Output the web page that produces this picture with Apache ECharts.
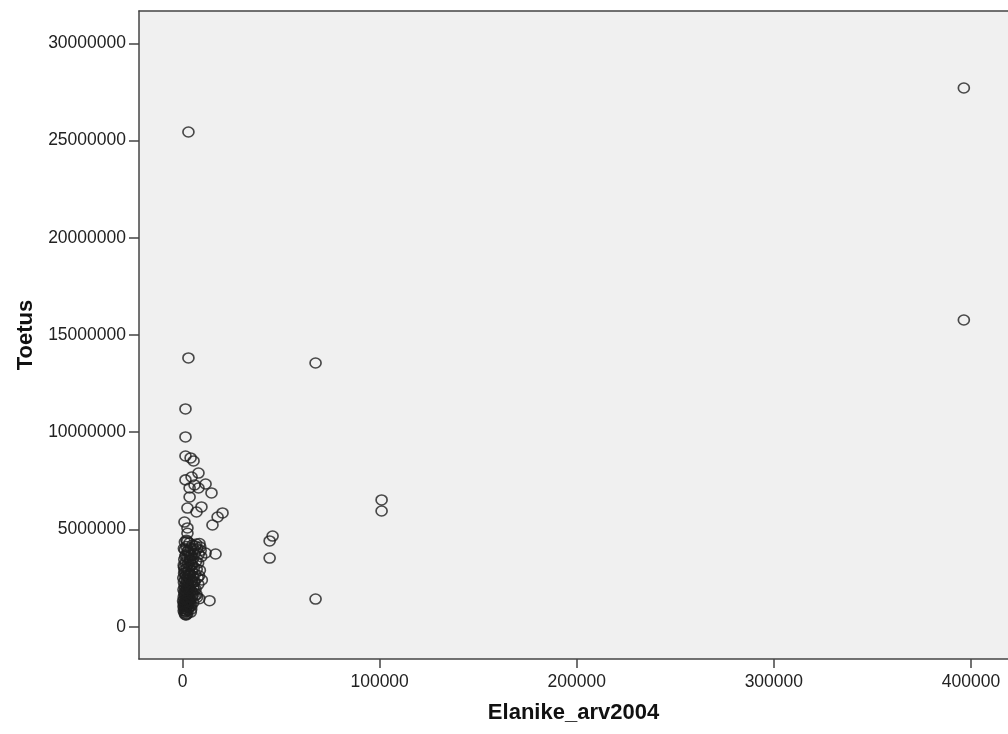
<!DOCTYPE html>
<html>
<head>
<meta charset="utf-8">
<script src="https://cdn.jsdelivr.net/npm/echarts@6/dist/echarts.min.js"></script>
<style>
html,body{margin:0;padding:0;background:#fff;}
#c{width:1008px;height:734px;}
</style>
</head>
<body>
<div id="c"></div>
<script>
// Population 2004 (x) and support (y, millions)
const elanike = [
  396400, 396400, 3000, 3000, 67500, 101000, 101000, 45700, 44200, 44200, 67500,
  13700, 16750, 11700,
  1500, 1500, 1500, 4100, 5600,
  1500, 4600, 8100, 6100, 11700, 14700, 3600, 8100, 3600, 2500, 9600, 7100, 1000, 15200, 20300, 17800, 2500, 2500,
  2000, 3500, 5000, 6500, 7000, 4200, 1200, 2800, 5600, 7500, 3300, 6000, 1800, 4500, 8200, 2500, 5200, 900, 3800, 6800,
  1500, 2900, 4400, 600, 3600, 5800, 2100, 7200, 1100, 3100, 4800, 2400, 800, 6300, 3900, 1700, 5300, 2600, 400, 7700,
  3400, 1300, 4600, 2200, 5900, 700, 3000, 1900, 8000, 4100, 2700, 1000, 5500, 3500,
  1600, 2300, 6600, 500, 3200, 4300, 1400, 2000, 5100, 900, 2800, 3700, 7100, 1200, 2500, 4700, 600, 3300,
  1800, 2600, 8500, 1000, 4000, 2100, 300, 3000, 1500, 5400, 2400, 700, 3500, 1900, 1100, 2700, 4500, 500, 2200, 1600,
  3100, 800, 1300, 2000, 2900, 600, 1700, 4200, 1000, 2300, 1400, 1900,
  9000, 9500, 8800, 9800, 1200, 2600, 4000, 800, 3300, 5000, 1800, 6200, 2900, 4400, 700, 3700, 2100, 5700, 1400, 3000,
  8600, 9200, 7900, 8400, 2000, 3400, 4900, 1300, 6100, 2700, 5300, 900, 3900, 1600, 7400, 2400
];
const toetus = [
  27.70, 15.77, 25.44, 13.82, 13.56, 6.52, 5.95, 4.66, 4.41, 3.53, 1.42,
  1.34, 3.74, 3.79,
  11.20, 9.76, 8.78, 8.68, 8.52,
  7.55, 7.70, 7.90, 7.29, 7.34, 6.88, 7.13, 7.13, 6.67, 6.10, 6.16, 5.90, 5.38, 5.23, 5.85, 5.64, 5.08, 4.80,
  4.45, 4.30, 4.20, 4.15, 4.25, 4.05, 3.95, 3.90, 3.98, 4.00, 3.80, 3.75, 3.70, 3.65, 3.72, 3.55, 3.50, 3.45, 3.40, 3.35,
  3.30, 3.25, 3.20, 3.15, 3.10, 3.05, 3.00, 2.95, 2.92, 2.88, 2.85, 2.80, 2.75, 2.70, 2.68, 2.62, 2.58, 2.55, 2.50, 2.52,
  2.45, 2.42, 2.38, 2.35, 2.30, 2.28, 2.25, 2.20, 2.18, 2.15, 2.10, 2.08, 2.05, 2.02,
  1.98, 1.95, 1.92, 1.90, 1.88, 1.85, 1.82, 1.80, 1.76, 1.74, 1.70, 1.68, 1.65, 1.62, 1.60, 1.55, 1.52, 1.50,
  1.48, 1.45, 1.44, 1.40, 1.38, 1.35, 1.32, 1.30, 1.28, 1.25, 1.22, 1.20, 1.18, 1.15, 1.12, 1.10, 1.08, 1.05, 1.02, 1.00,
  0.98, 0.95, 0.92, 0.88, 0.85, 0.82, 0.78, 0.75, 0.70, 0.66, 0.62, 0.60,
  4.10, 3.60, 2.90, 2.40, 4.35, 3.85, 3.45, 3.05, 2.65, 2.25, 1.72, 1.58, 1.26, 0.90, 4.02, 2.72, 1.36, 1.90, 3.62, 2.12,
  4.28, 3.92, 3.28, 2.62, 4.12, 3.68, 3.18, 2.78, 2.32, 1.94, 1.64, 1.18, 1.06, 0.80, 1.52, 4.38
];
const xTicks = [0, 100000, 200000, 300000, 400000];
const yTicks = [0, 5000000, 10000000, 15000000, 20000000, 25000000, 30000000];

const data = elanike.map((x, i) => [x, Math.round(toetus[i] * 1000000)]);

const chart = echarts.init(document.getElementById('c'), null, {renderer: 'canvas'});
const FF = 'Liberation Sans, Arial, sans-serif';
const labelFont = {color: '#222', fontSize: 17.5, fontFamily: FF, formatter: v => String(Math.round(v))};
const lineStyle = {color: '#444', width: 1.5};
chart.setOption({
  animation: false,
  backgroundColor: '#ffffff',
  grid: {
    left: 139, top: 11, right: 0, bottom: 75,
    show: true, backgroundColor: '#f0f0f0', borderWidth: 0
  },
  xAxis: [{
    type: 'value',
    min: -22080, max: 418800,
    name: 'Elanike_arv2004', nameLocation: 'middle', nameGap: 43,
    nameTextStyle: {color: '#111', fontSize: 22, fontWeight: 'bold', fontFamily: FF},
    axisLine: {show: true, onZero: false, lineStyle: lineStyle},
    axisTick: {show: true, length: 9, customValues: xTicks, lineStyle: lineStyle},
    axisLabel: Object.assign({margin: 14, customValues: xTicks}, labelFont),
    splitLine: {show: false}
  }, {
    type: 'value', position: 'top',
    min: -22080, max: 418800,
    axisLine: {show: true, onZero: false, lineStyle: lineStyle},
    axisTick: {show: false}, axisLabel: {show: false}, splitLine: {show: false}
  }],
  yAxis: {
    type: 'value',
    min: -1661000, max: 31661000,
    name: 'Toetus', nameLocation: 'middle', nameGap: 99, nameRotate: 90,
    nameTextStyle: {color: '#111', fontSize: 22, fontWeight: 'bold', fontFamily: FF},
    axisLine: {show: true, onZero: false, lineStyle: lineStyle},
    axisTick: {show: true, length: 10, customValues: yTicks, lineStyle: lineStyle},
    axisLabel: Object.assign({margin: 13, customValues: yTicks}, labelFont),
    splitLine: {show: false}
  },
  series: [{
    type: 'scatter',
    xAxisIndex: 0,
    data: data,
    symbol: 'circle',
    symbolSize: [11, 10],
    itemStyle: {color: 'rgba(0,0,0,0)', borderColor: '#1e1e1e', borderWidth: 1.6}
  }]
});
</script>
</body>
</html>
